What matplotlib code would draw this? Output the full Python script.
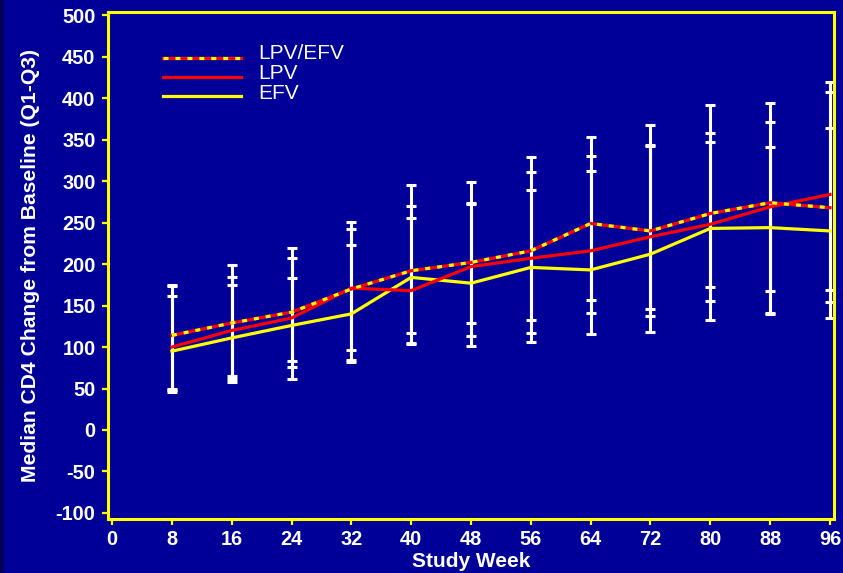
import matplotlib
matplotlib.use("Agg")
import matplotlib.pyplot as plt
import numpy as np

plt.rcParams['font.family'] = ['Liberation Sans', 'DejaVu Sans']
plt.rcParams['lines.scale_dashes'] = False

weeks = [8, 16, 24, 32, 40, 48, 56, 64, 72, 80, 88, 96]

# medians
lpv_efv = [114, 129, 142, 170, 192, 202, 216, 249, 240, 261, 274, 268]
lpv     = [100, 120, 135, 171, 168, 197, 207, 216, 233, 248, 269, 284]
efv     = [95, 111, 126, 140, 184, 177, 196, 193, 212, 243, 244, 240]

# Q3 (upper quartile)
lpv_efv_q3 = [175, 199, 219, 251, 295, 299, 329, 353, 368, 392, 394, 420]
lpv_q3     = [174, 184, 207, 242, 270, 274, 311, 330, 343, 358, 371, 407]
efv_q3     = [162, 175, 183, 223, 255, 272, 289, 312, 344, 347, 341, 364]
# Q1 (lower quartile)
lpv_efv_q1 = [48, 65, 83, 96, 117, 129, 132, 157, 146, 172, 167, 169]
lpv_q1     = [46, 61, 76, 82, 105, 113, 117, 141, 137, 155, 140, 154]
efv_q1     = [50, 58, 61, 84, 104, 101, 106, 116, 118, 132, 141, 135]

xticks = [0, 8, 16, 24, 32, 40, 48, 56, 64, 72, 80, 88, 96]
yticks = [-100, -50, 0, 50, 100, 150, 200, 250, 300, 350, 400, 450, 500]

BG = '#000099'
YEL = '#FFFF00'
RED = '#FF0000'

fig = plt.figure(figsize=(8.43, 5.73), dpi=100, facecolor=BG)
# dark left edge strip
fig.patches.append(plt.Rectangle((0, 0), 4 / 843, 1, transform=fig.transFigure,
                                 facecolor='#00005A', edgecolor='none', zorder=0))
ax = fig.add_axes([108 / 843, 1 - 518.7 / 573, 726 / 843, 506.7 / 573])
ax.set_facecolor(BG)

# error bars (white)
for med, q1, q3 in [(lpv_efv, lpv_efv_q1, lpv_efv_q3),
                    (lpv, lpv_q1, lpv_q3),
                    (efv, efv_q1, efv_q3)]:
    med_a = np.array(med)
    yerr = [med_a - np.array(q1), np.array(q3) - med_a]
    ax.errorbar(weeks, med, yerr=yerr, fmt='none', ecolor='white',
                elinewidth=2.2, capsize=3.3, capthick=2.2, zorder=2)

ax.plot(weeks, efv, color=YEL, lw=2.3, zorder=3, solid_joinstyle='round')
ax.plot(weeks, lpv, color=RED, lw=2.3, zorder=4, solid_joinstyle='round')
ax.plot(weeks, lpv_efv, color=RED, lw=2.3, zorder=5, solid_joinstyle='round')
ax.plot(weeks, lpv_efv, color=YEL, lw=2.3, zorder=6,
        linestyle=(0, (3.6, 5.0)), dash_capstyle='butt')

ax.set_xlim(-0.55, 96.55)
ax.set_ylim(-107, 504)
ax.set_xticks(xticks)
ax.set_yticks(yticks)
ax.set_xticklabels([str(v) for v in xticks])
ax.set_yticklabels([str(v) for v in yticks])

for sp in ax.spines.values():
    sp.set_color(YEL)
    sp.set_linewidth(2.2)
ax.tick_params(axis='both', colors=YEL, direction='out', length=4, width=1.6,
               labelcolor='white', labelsize=14.4)
ax.tick_params(axis='y', pad=5)
ax.tick_params(axis='x', pad=4)
for lab in ax.get_xticklabels() + ax.get_yticklabels():
    lab.set_fontweight('bold')

ax.set_xlabel('Study Week', color='white', fontsize=15, fontweight='bold')
ax.set_ylabel('Median CD4 Change from Baseline (Q1-Q3)', color='white',
              fontsize=15.2, fontweight='bold')
ax.xaxis.set_label_coords(0.5, -0.066)
ax.yaxis.set_label_coords(-0.094, 0.5)

# legend (manual)
lx0, lx1, tx = 0.0758, 0.183, 0.2066
rows = [(0.909, 0.9073, 'LPV/EFV'), (0.8717, 0.8678, 'LPV'), (0.834, 0.8283, 'EFV')]
y0 = rows[0][0]
ax.plot([lx0, lx1], [y0, y0], transform=ax.transAxes, color=RED, lw=2.3, zorder=7)
ax.plot([lx0, lx1], [y0, y0], transform=ax.transAxes, color=YEL, lw=2.3, zorder=8,
        linestyle=(0, (3.6, 5.0)), dash_capstyle='butt')
ax.plot([lx0, lx1], [rows[1][0]] * 2, transform=ax.transAxes, color=RED, lw=2.3, zorder=7)
ax.plot([lx0, lx1], [rows[2][0]] * 2, transform=ax.transAxes, color=YEL, lw=2.3, zorder=7)
for _, ty, name in rows:
    ax.text(tx, ty, name, transform=ax.transAxes, color='white', fontsize=15,
            va='baseline', ha='left')

fig.savefig('out.png', dpi=100, facecolor=BG)
